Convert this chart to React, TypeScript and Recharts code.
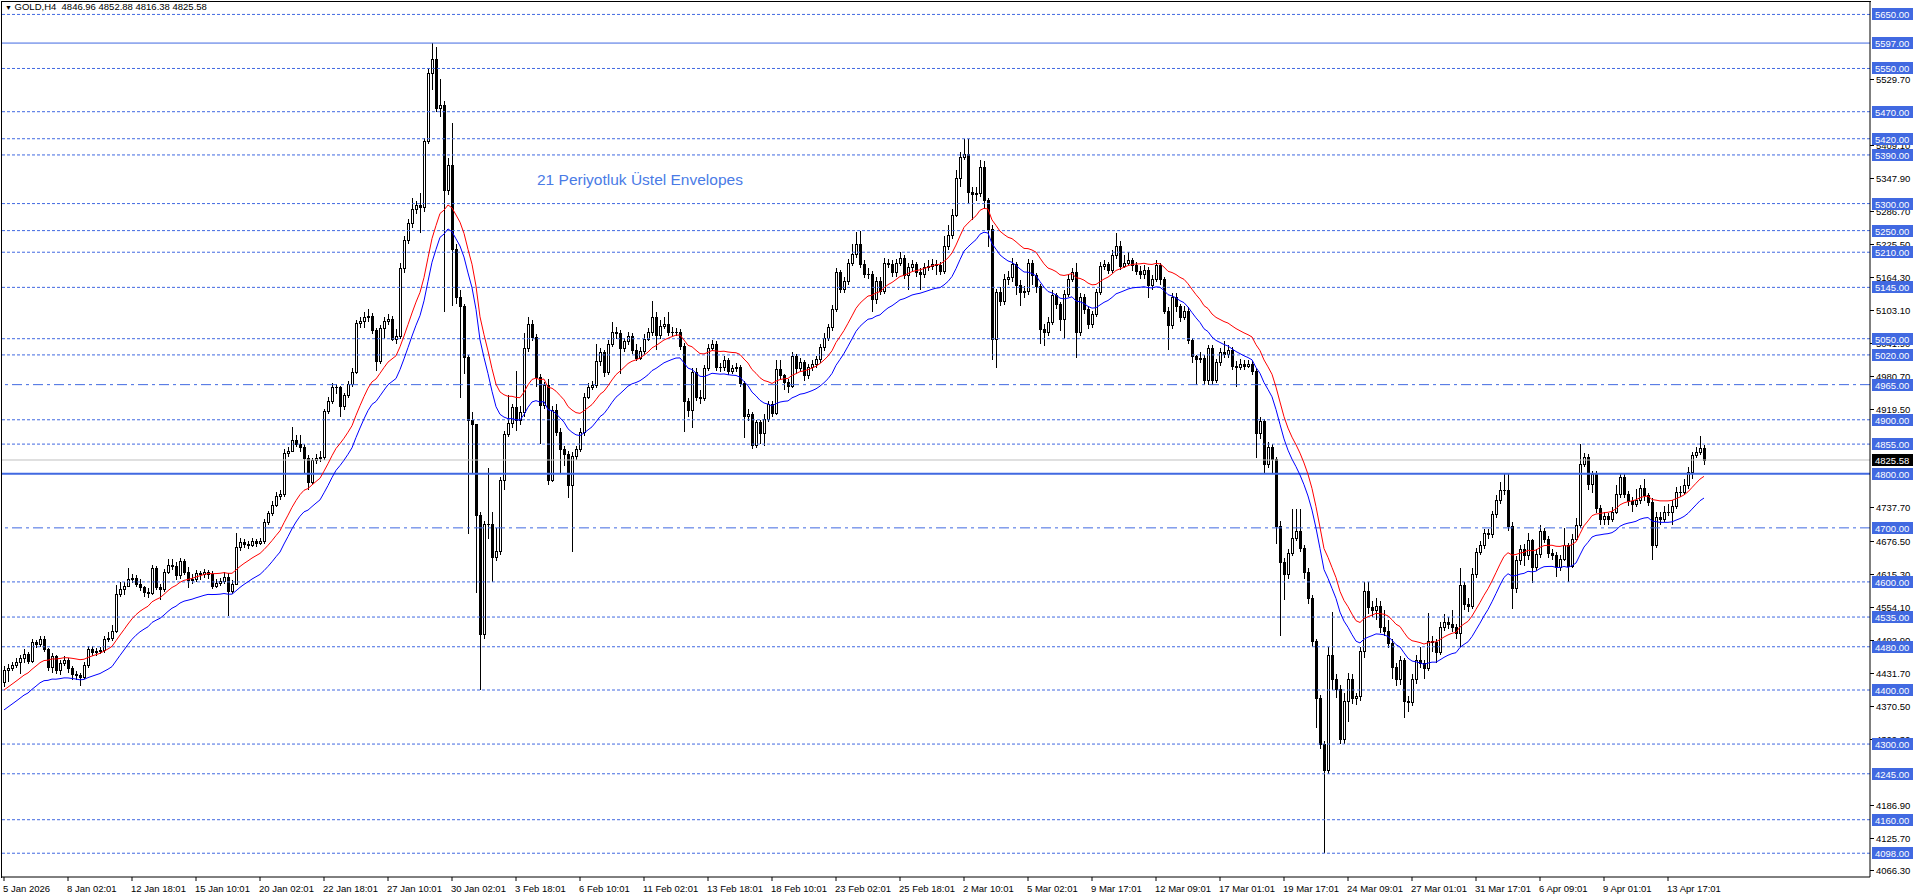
import React from "react";
import { ComposedChart, Bar, Line, XAxis, YAxis, ReferenceLine } from "recharts";

// GOLD H4, 5 Jan 2026 - 15 Apr 2026, one value per 4h bar (open = previous close)
const FIRST_OPEN = 4415;

const closes = [
  4437, 4441, 4446, 4452, 4459, 4466, 4453, 4488, 4485, 4494, 4475, 4443, 4462, 4437, 4450, 4455,
  4440, 4430, 4427, 4424, 4446, 4475, 4470, 4472, 4474, 4494, 4497, 4510, 4577, 4587, 4593, 4606,
  4608, 4597, 4590, 4581, 4579, 4625, 4590, 4587, 4619, 4632, 4630, 4612, 4638, 4619, 4603, 4606,
  4616, 4614, 4618, 4614, 4593, 4598, 4602, 4610, 4584, 4597, 4664, 4674, 4670, 4668, 4676, 4672,
  4676, 4711, 4727, 4743, 4759, 4763, 4839, 4843, 4862, 4856, 4850, 4830, 4785, 4826, 4829, 4832,
  4916, 4935, 4961, 4960, 4925, 4945, 4967, 4989, 5079, 5082, 5091, 5092, 5066, 5008, 5069, 5082,
  5086, 5050, 5055, 5180, 5233, 5265, 5290, 5297, 5293, 5416, 5542, 5567, 5477, 5483, 5326, 5371,
  5216, 5127, 5110, 5017, 4899, 4892, 4723, 4503, 4707, 4708, 4646, 4658, 4789, 4874, 4894, 4923,
  4900, 4915, 5033, 5078, 5053, 4980, 4927, 4964, 4789, 4919, 4878, 4846, 4836, 4780, 4833, 4845,
  4878, 4943, 4960, 4964, 5008, 5025, 4988, 5041, 5062, 5060, 5033, 5045, 5055, 5030, 5015, 5027,
  5050, 5062, 5090, 5057, 5074, 5078, 5062, 5063, 5062, 5037, 4935, 4919, 4988, 4943, 4940, 4995,
  5033, 5040, 4998, 4997, 5010, 4990, 4995, 4998, 4968, 4907, 4910, 4853, 4895, 4875, 4901, 4929,
  4913, 4994, 4982, 4969, 4963, 5018, 4995, 5006, 4982, 4997, 5003, 5012, 5034, 5052, 5071, 5105,
  5173, 5142, 5156, 5191, 5207, 5225, 5188, 5170, 5170, 5123, 5157, 5139, 5191, 5189, 5173, 5191,
  5200, 5167, 5182, 5188, 5173, 5170, 5182, 5185, 5188, 5186, 5176, 5222, 5242, 5279, 5347, 5386,
  5392, 5321, 5318, 5320, 5367, 5306, 5253, 5049, 5136, 5120, 5161, 5164, 5188, 5150, 5136, 5138,
  5191, 5167, 5148, 5068, 5062, 5080, 5130, 5115, 5087, 5133, 5161, 5173, 5062, 5127, 5105, 5077,
  5096, 5136, 5185, 5188, 5177, 5204, 5222, 5185, 5190, 5195, 5186, 5176, 5170, 5178, 5150, 5160,
  5187, 5160, 5101, 5075, 5128, 5110, 5090, 5102, 5048, 5018, 5012, 5015, 4973, 5032, 4973, 5006,
  5026, 5022, 5030, 5000, 4998, 5004, 5000, 5003, 4990, 4876, 4898, 4818, 4849, 4827, 4703, 4637,
  4615, 4654, 4681, 4694, 4663, 4619, 4570, 4491, 4385, 4300, 4252, 4464, 4420, 4402, 4309, 4380,
  4420, 4385, 4388, 4473, 4584, 4553, 4548, 4555, 4517, 4510, 4487, 4442, 4420, 4455, 4380, 4377,
  4420, 4455, 4450, 4440, 4491, 4488, 4470, 4517, 4526, 4522, 4516, 4506, 4595, 4560, 4556, 4615,
  4655, 4668, 4690, 4688, 4725, 4752, 4770, 4770, 4703, 4588, 4641, 4660, 4649, 4677, 4628, 4652,
  4695, 4680, 4653, 4650, 4628, 4643, 4668, 4630, 4680, 4705, 4819, 4831, 4782, 4800, 4736, 4717,
  4722, 4717, 4730, 4763, 4794, 4763, 4750, 4745, 4752, 4774, 4760, 4748, 4668, 4720, 4717, 4730,
  4730, 4740, 4766, 4767, 4780, 4804, 4834, 4841, 4847, 4825.58,
];

const highs = [
  4445, 4448, 4452, 4459, 4464, 4475, 4470, 4495, 4493, 4500, 4500, 4478, 4468, 4465, 4456, 4462,
  4460, 4445, 4435, 4432, 4452, 4482, 4482, 4478, 4480, 4500, 4508, 4520, 4594, 4600, 4600, 4626,
  4614, 4612, 4605, 4592, 4588, 4632, 4630, 4596, 4624, 4642, 4642, 4636, 4645, 4643, 4628, 4614,
  4622, 4621, 4624, 4622, 4620, 4605, 4608, 4618, 4616, 4603, 4690, 4682, 4680, 4676, 4682, 4680,
  4682, 4716, 4732, 4750, 4766, 4770, 4845, 4850, 4887, 4872, 4872, 4855, 4834, 4830, 4836, 4842,
  4920, 4942, 4968, 4966, 4962, 4950, 4972, 4995, 5085, 5090, 5100, 5105, 5098, 5070, 5075, 5090,
  5095, 5092, 5068, 5190, 5240, 5272, 5310, 5305, 5320, 5422, 5550, 5597, 5590, 5530, 5490, 5385,
  5450, 5225, 5140, 5115, 5020, 4915, 4882, 4730, 4712, 4810, 4730, 4700, 4795, 4880, 4945, 4930,
  4990, 4925, 5060, 5090, 5085, 5058, 4985, 4970, 4975, 4925, 4930, 4885, 4852, 4842, 4840, 4852,
  4885, 4950, 4968, 4972, 5040, 5032, 5030, 5048, 5080, 5072, 5066, 5052, 5062, 5060, 5040, 5035,
  5058, 5070, 5120, 5100, 5085, 5090, 5100, 5072, 5070, 5068, 5042, 4940, 4995, 4995, 4955, 5002,
  5040, 5048, 5045, 5005, 5018, 5015, 5002, 5005, 5002, 4972, 4920, 4915, 4900, 4900, 4910, 4935,
  4935, 5010, 5010, 4985, 4975, 5025, 5022, 5015, 5010, 5003, 5010, 5018, 5040, 5060, 5078, 5112,
  5180, 5178, 5165, 5198, 5225, 5247, 5250, 5195, 5180, 5175, 5165, 5165, 5200, 5198, 5195, 5198,
  5210, 5205, 5190, 5195, 5192, 5180, 5190, 5195, 5198, 5195, 5192, 5240, 5260, 5290, 5362, 5395,
  5420, 5420, 5330, 5330, 5380, 5378, 5310, 5260, 5142, 5145, 5170, 5175, 5200, 5192, 5158, 5148,
  5198, 5196, 5172, 5152, 5078, 5090, 5140, 5135, 5118, 5140, 5170, 5180, 5191, 5135, 5132, 5110,
  5102, 5142, 5192, 5196, 5192, 5215, 5245, 5230, 5205, 5210, 5200, 5192, 5185, 5186, 5182, 5168,
  5195, 5190, 5165, 5108, 5135, 5135, 5115, 5110, 5108, 5052, 5020, 5025, 5020, 5038, 5038, 5012,
  5032, 5045, 5038, 5035, 5008, 5012, 5010, 5010, 5008, 4995, 4905, 4902, 4858, 4855, 4832, 4712,
  4645, 4660, 4735, 4735, 4735, 4668, 4625, 4575, 4495, 4390, 4305, 4480, 4545, 4430, 4410, 4395,
  4432, 4430, 4395, 4480, 4600, 4600, 4565, 4570, 4565, 4548, 4530, 4495, 4450, 4462, 4460, 4388,
  4430, 4465, 4480, 4455, 4542, 4500, 4495, 4525, 4540, 4535, 4548, 4522, 4625, 4600, 4570, 4625,
  4662, 4675, 4698, 4698, 4732, 4760, 4785, 4800, 4800, 4710, 4648, 4668, 4670, 4690, 4680, 4660,
  4706, 4700, 4685, 4660, 4656, 4650, 4700, 4672, 4688, 4718, 4855, 4838, 4836, 4805, 4805, 4742,
  4730, 4728, 4738, 4780, 4800, 4800, 4768, 4758, 4772, 4780, 4790, 4765, 4755, 4730, 4730, 4740,
  4745, 4752, 4775, 4778, 4790, 4812, 4840, 4850, 4870, 4852.88,
];

const lows = [
  4405, 4415, 4436, 4440, 4430, 4450, 4448, 4450, 4478, 4480, 4470, 4435, 4432, 4430, 4428, 4445,
  4432, 4418, 4418, 4408, 4420, 4440, 4462, 4462, 4466, 4468, 4488, 4490, 4505, 4572, 4575, 4590,
  4598, 4590, 4583, 4572, 4570, 4575, 4585, 4567, 4582, 4615, 4622, 4604, 4606, 4612, 4588, 4596,
  4600, 4604, 4608, 4606, 4586, 4588, 4592, 4596, 4536, 4578, 4632, 4658, 4662, 4660, 4664, 4665,
  4668, 4670, 4705, 4722, 4738, 4752, 4757, 4832, 4840, 4850, 4840, 4800, 4770, 4780, 4818, 4822,
  4826, 4910, 4930, 4948, 4905, 4918, 4940, 4960, 4985, 5070, 5070, 5080, 5058, 4990, 5003, 5050,
  5075, 5045, 5040, 5050, 5172, 5225, 5255, 5280, 5245, 5285, 5410, 5510, 5470, 5460, 5100, 5315,
  5110, 5115, 4940, 4985, 4688, 4800, 4580, 4400, 4495, 4680, 4600, 4638, 4650, 4770, 4868, 4885,
  4880, 4890, 4905, 5025, 5045, 4960, 4855, 4920, 4780, 4785, 4870, 4800, 4815, 4755, 4655, 4825,
  4840, 4870, 4938, 4955, 4958, 5000, 4980, 4982, 5035, 5050, 4985, 5025, 5038, 5022, 5008, 5010,
  5020, 5045, 5055, 5030, 5050, 5068, 5055, 5055, 5055, 5030, 4878, 4905, 4885, 4935, 4930, 4935,
  4990, 5028, 4990, 4988, 4990, 4982, 4985, 4988, 4960, 4866, 4898, 4845, 4848, 4855, 4852, 4895,
  4905, 4908, 4975, 4955, 4950, 4958, 4985, 4988, 4972, 4975, 4990, 4995, 5005, 5028, 5045, 5065,
  5100, 5135, 5135, 5150, 5185, 5200, 5180, 5162, 5160, 5100, 5115, 5130, 5132, 5180, 5165, 5165,
  5185, 5160, 5140, 5175, 5165, 5140, 5162, 5175, 5178, 5168, 5168, 5170, 5215, 5235, 5275, 5330,
  5380, 5300, 5270, 5305, 5312, 5290, 5220, 5010, 4995, 5110, 5112, 5150, 5155, 5130, 5110, 5125,
  5130, 5150, 5135, 5040, 5037, 5055, 5075, 5105, 5065, 5050, 5128, 5155, 5014, 5055, 5095, 5068,
  5070, 5090, 5130, 5178, 5170, 5172, 5198, 5178, 5180, 5185, 5175, 5168, 5160, 5160, 5125, 5140,
  5155, 5150, 5095, 5030, 5068, 5100, 5080, 5085, 5040, 5005, 4964, 5005, 4964, 4965, 4964, 4968,
  5000, 5015, 5015, 4992, 4960, 4992, 4992, 4995, 4982, 4830, 4865, 4800, 4810, 4800, 4670, 4500,
  4566, 4605, 4648, 4675, 4655, 4605, 4560, 4480, 4330, 4290, 4098, 4245, 4400, 4385, 4300, 4300,
  4340, 4375, 4372, 4380, 4460, 4540, 4535, 4530, 4505, 4500, 4478, 4420, 4408, 4410, 4349, 4360,
  4370, 4412, 4440, 4420, 4435, 4470, 4450, 4465, 4510, 4512, 4508, 4495, 4480, 4548, 4545, 4550,
  4608, 4650, 4660, 4680, 4682, 4718, 4745, 4760, 4695, 4550, 4580, 4632, 4630, 4640, 4598, 4620,
  4645, 4672, 4645, 4640, 4610, 4620, 4638, 4600, 4625, 4675, 4700, 4812, 4770, 4765, 4728, 4705,
  4705, 4705, 4710, 4725, 4755, 4755, 4740, 4730, 4738, 4745, 4750, 4740, 4640, 4662, 4705, 4710,
  4722, 4705, 4735, 4758, 4760, 4772, 4790, 4830, 4835, 4816.38,
];

// one label every 16 bars
const dateLabels = [
  "5 Jan 2026", "8 Jan 02:01", "12 Jan 18:01", "15 Jan 10:01", "20 Jan 02:01", "22 Jan 18:01",
  "27 Jan 10:01", "30 Jan 02:01", "3 Feb 18:01", "6 Feb 10:01", "11 Feb 02:01", "13 Feb 18:01",
  "18 Feb 10:01", "23 Feb 02:01", "25 Feb 18:01", "2 Mar 10:01", "5 Mar 02:01", "9 Mar 17:01",
  "12 Mar 09:01", "17 Mar 01:01", "19 Mar 17:01", "24 Mar 09:01", "27 Mar 01:01", "31 Mar 17:01",
  "6 Apr 09:01", "9 Apr 01:01", "13 Apr 17:01",
];

const priceTicks = [
  5529.7, 5409.1, 5347.9, 5286.7, 5225.5, 5164.3, 5103.1, 5041.9, 4980.7, 4919.5,
  4737.7, 4676.5, 4615.3, 4554.1, 4492.9, 4431.7, 4370.5, 4309.3, 4186.9, 4125.7, 4066.3,
];

const dotLevels = [5650, 5550, 5470, 5420, 5390, 5300, 5250, 5210, 5145, 5050, 5020, 4900, 4855, 4600, 4535, 4480, 4400, 4300, 4245, 4160, 4098];
const solidLevels = [5597, 4800];
const dashDotLevels = [4965, 4700];
const LAST_PRICE = 4825.58;

const EMA_PERIOD = 21;
const EMA_SEED = 4376;
const ENV_DEV = 0.0042;

const SLOTS = 467; // bars plus the empty shift on the right
const FONT = "'Liberation Sans', Arial, sans-serif";
const BLUE = "#4169e1";

const levelSet = new Set([...dotLevels, ...solidLevels, ...dashDotLevels]);
// grid ticks first, tagged levels after so their boxes sit on top
const axisTicks = [...priceTicks, ...dotLevels, ...dashDotLevels, ...solidLevels, LAST_PRICE];

const data = (() => {
  const k = 2 / (EMA_PERIOD + 1);
  let ema = EMA_SEED;
  const rows: any[] = [];
  for (let i = 0; i < SLOTS; i++) {
    if (i >= closes.length) {
      rows.push({ idx: i });
      continue;
    }
    const open = i === 0 ? FIRST_OPEN : closes[i - 1];
    const close = closes[i];
    const high = Math.max(highs[i], open, close);
    const low = Math.min(lows[i], open, close);
    ema = ema + k * (close - ema);
    rows.push({
      idx: i, open, high, low, close,
      range: [low, high],
      upper: ema * (1 + ENV_DEV),
      lower: ema * (1 - ENV_DEV),
    });
  }
  return rows;
})();

function Candle(props: any) {
  const { x, y, width, height, payload } = props;
  if (!payload || payload.close == null) return null;
  const top = Math.min(y, y + height);
  const bot = Math.max(y, y + height);
  const { high, low, open, close } = payload;
  const px = (p: number) => top + ((high - p) / (high - low)) * (bot - top);
  const cx = Math.round(x + width / 2);
  const yo = px(open), yc = px(close);
  const bt = Math.round(Math.min(yo, yc));
  const bb = Math.round(Math.max(yo, yc));
  const up = close >= open;
  return (
    <g>
      <line x1={cx + 0.5} x2={cx + 0.5} y1={Math.round(top)} y2={Math.round(bot)} stroke="#000" strokeWidth={1} />
      {bb - bt < 1 ? (
        <line x1={cx - 1} x2={cx + 2} y1={bt + 0.5} y2={bt + 0.5} stroke="#000" strokeWidth={1} />
      ) : (
        <rect x={cx - 0.5} y={bt + 0.5} width={2} height={bb - bt} fill={up ? "#fff" : "#000"} stroke="#000" strokeWidth={1} />
      )}
    </g>
  );
}

function XTick({ x, y, payload }: any) {
  const label = dateLabels[Math.round(payload.value / 16)];
  return (
    <text x={x - 1} y={y + 11} fontSize={9.5} fontFamily={FONT} fill="#000">{label}</text>
  );
}

function YTick({ x, y, payload }: any) {
  const v = payload.value;
  const yy = Math.round(y);
  if (v === LAST_PRICE || levelSet.has(v)) {
    return (
      <g>
        <rect x={x + 2} y={yy - 6} width={41} height={12} fill={v === LAST_PRICE ? "#000" : BLUE} />
        <text x={x + 5} y={yy + 3.5} fontSize={9.5} fontFamily={FONT} fill="#fff">{v.toFixed(2)}</text>
      </g>
    );
  }
  return (
    <g>
      <line x1={x} x2={x + 4} y1={yy + 0.5} y2={yy + 0.5} stroke="#000" />
      <text x={x + 6} y={yy + 3.5} fontSize={9.5} fontFamily={FONT} fill="#000">{v.toFixed(2)}</text>
    </g>
  );
}

export default function App() {
  return (
    <div style={{ position: "absolute", left: 0, top: 0, width: 1916, height: 896, background: "#fff" }}>
      <ComposedChart
        width={1916}
        height={896}
        data={data}
        margin={{ top: 2, right: 0, left: 2, bottom: 0 }}
        barCategoryGap={0}
        barGap={0}
      >
        <XAxis
          dataKey="idx"
          type="category"
          ticks={dateLabels.map((_, i) => i * 16)}
          interval={0}
          height={19}
          tick={<XTick />}
          tickSize={4}
          tickMargin={0}
          tickLine={{ stroke: "#000" }}
          axisLine={{ stroke: "#000" }}
        />
        <YAxis
          orientation="right"
          type="number"
          domain={[4054, 5673]}
          allowDataOverflow
          ticks={axisTicks}
          interval={0}
          width={46}
          tick={<YTick />}
          tickSize={0}
          tickMargin={0}
          tickLine={false}
          axisLine={{ stroke: "#000" }}
        />
        {dotLevels.map(v => (
          <ReferenceLine key={v} y={v} stroke={BLUE} strokeDasharray="3 2" />
        ))}
        {dashDotLevels.map(v => (
          <ReferenceLine key={v} y={v} stroke={BLUE} strokeDasharray="10 4 3 4" />
        ))}
        <ReferenceLine y={LAST_PRICE} stroke="#c0c0c0" />
        {solidLevels.map(v => (
          <ReferenceLine key={v} y={v} stroke={BLUE} strokeWidth={v === 4800 ? 2 : 1} />
        ))}
        <Line dataKey="upper" stroke="#ff0000" strokeWidth={1} dot={false} activeDot={false} isAnimationActive={false} />
        <Line dataKey="lower" stroke="#0000ff" strokeWidth={1} dot={false} activeDot={false} isAnimationActive={false} />
        <Bar dataKey="range" shape={(p: any) => <Candle {...p} />} isAnimationActive={false} />
      </ComposedChart>
      <div style={{ position: "absolute", left: 1, top: 1, width: 1869, height: 876, borderLeft: "1px solid #000", borderTop: "1px solid #000", pointerEvents: "none" }} />
      <div style={{ position: "absolute", left: 5, top: 1, fontFamily: FONT, fontSize: 9.5, color: "#000", whiteSpace: "pre" }}>
        <span style={{ fontSize: 7 }}>▼</span> GOLD,H4  4846.96 4852.88 4816.38 4825.58
      </div>
      <div style={{ position: "absolute", left: 537, top: 171, fontFamily: FONT, fontSize: 15.5, color: "#4a7be6", whiteSpace: "pre" }}>
        21 Periyotluk Üstel Envelopes
      </div>
    </div>
  );
}
